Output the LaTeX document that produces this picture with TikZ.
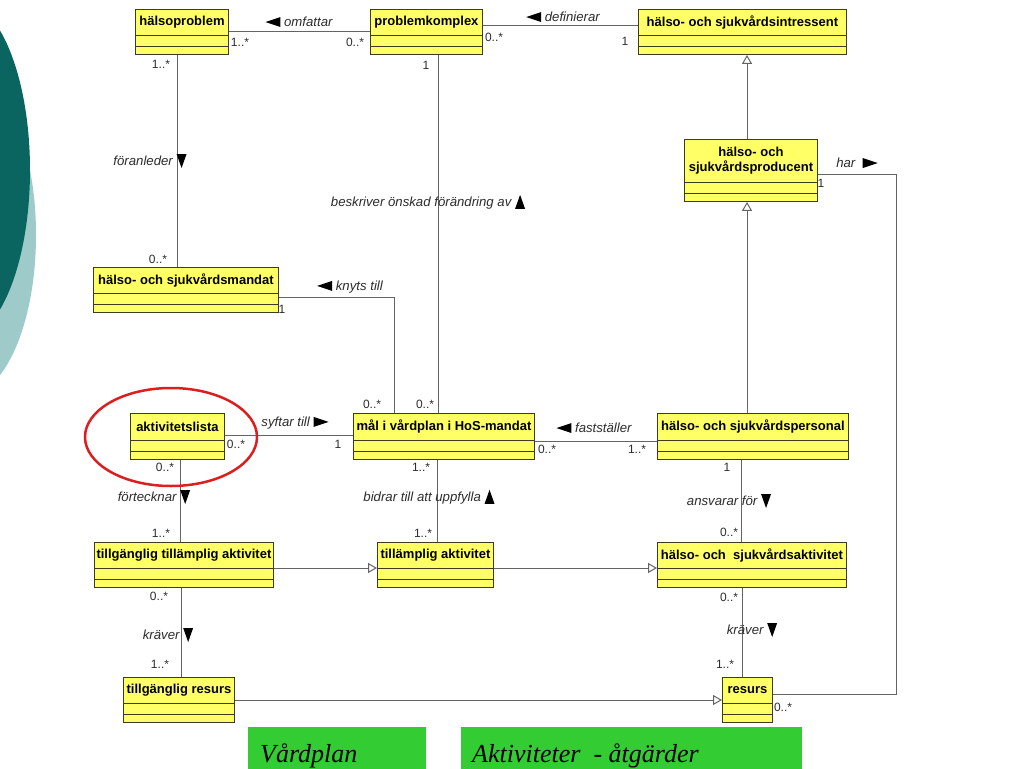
\documentclass[tikz,border=0pt]{standalone}
\usepackage{fontspec}
\setmainfont{Liberation Sans}
\newfontfamily\serifit{Liberation Serif}
\usetikzlibrary{arrows.meta,calc}
\definecolor{clsyellow}{RGB}{255,255,102}
\definecolor{clsborder}{RGB}{60,60,30}
\definecolor{linegray}{RGB}{100,100,100}
\definecolor{labgray}{RGB}{45,45,45}
\definecolor{darkteal}{RGB}{10,100,96}
\definecolor{lightteal}{RGB}{158,202,202}
\definecolor{slidegreen}{RGB}{51,204,51}
\definecolor{ringred}{RGB}{220,30,30}
\tikzset{
 clsbox/.style={draw=clsborder, fill=clsyellow, line width=0.9pt, inner sep=0pt, anchor=north west},
 clstitle/.style={font=\fontsize{13}{15}\selectfont\bfseries, text=black, inner sep=0pt, align=center},
 cline/.style={draw=clsborder, line width=0.9pt},
 assoc/.style={draw=linegray, line width=1pt},
 gen/.style={draw=linegray, line width=1pt, -{Triangle[open, length=9pt, width=10pt, fill=white]}},
 rolelab/.style={font=\fontsize{13.2}{15}\selectfont\itshape, text=labgray, inner sep=0pt},
 mult/.style={font=\fontsize{12}{14}\selectfont, text=labgray, inner sep=0pt},
 greenbox/.style={fill=slidegreen, draw=none, inner sep=0pt, anchor=north west},
 greentext/.style={font=\serifit\itshape\fontsize{26}{28}\selectfont, text=black, inner sep=0pt, anchor=base west},
}
\newcommand\triL{\tikz[x=1pt,y=1pt,baseline=-4.5pt]\fill[black] (0,0)--(15,5)--(15,-5)--cycle;}
\newcommand\triR{\tikz[x=1pt,y=1pt,baseline=-4.5pt]\fill[black] (15,0)--(0,5)--(0,-5)--cycle;}
\newcommand\triU{\tikz[x=1pt,y=1pt,baseline=-4.5pt]\fill[black] (0,7)--(5,-7)--(-5,-7)--cycle;}
\newcommand\triD{\tikz[x=1pt,y=1pt,baseline=-4.5pt]\fill[black] (0,-7)--(5,7)--(-5,7)--cycle;}
\newcommand\umlclass[6]{%
 \node[clsbox, minimum width=#4pt, minimum height=#5pt] (#1) at (#2,#3) {};
 \draw[cline] ([yshift=19pt]#1.south west) -- ([yshift=19pt]#1.south east);
 \draw[cline] ([yshift=8pt]#1.south west) -- ([yshift=8pt]#1.south east);
 \node[clstitle] (#1-t) at ($(#1.north)!0.5!([yshift=19pt]#1.south)$) {#6};
}
\begin{document}
\begin{tikzpicture}[x=1pt,y=-1pt]
\useasboundingbox (0,0) rectangle (1024,768);
\fill[white] (0,0) rectangle (1024,768);
% slide decoration
\fill[lightteal] (-35,235) ellipse [x radius=71pt, y radius=161pt];
\fill[darkteal] (-40,170) ellipse [x radius=70pt, y radius=170pt];

% classes
\umlclass{hp}{135}{9}{93}{45}{hälsoproblem}
\umlclass{pk}{370}{9}{112}{45}{problemkomplex}
\umlclass{hi}{638}{9}{208}{45}{hälso- och sjukvårdsintressent}
\umlclass{hprod}{684}{139}{133}{62}{hälso- och\\sjukvårdsproducent}
\umlclass{hm}{93}{267}{185}{45}{hälso- och sjukvårdsmandat}
\umlclass{al}{130}{413}{94}{46}{aktivitetslista}
\umlclass{mal}{353}{413}{181}{46}{mål i vårdplan i HoS-mandat}
\umlclass{hper}{657}{413}{191}{46}{hälso- och sjukvårdspersonal}
\umlclass{tta}{94}{542}{179}{45}{tillgänglig tillämplig aktivitet}
\umlclass{ta}{377}{542}{116}{45}{tillämplig aktivitet}
\umlclass{hsa}{657}{542}{189}{45}{hälso- och\ \ sjukvårdsaktivitet}
\umlclass{tr}{123}{677}{111}{45}{tillgänglig resurs}
\umlclass{res}{722}{677}{50}{45}{resurs}

% associations
\draw[assoc] (hp.east |- 0,32) -- (pk.west |- 0,32);
\draw[assoc] (pk.east |- 0,26) -- (hi.west |- 0,26);
\draw[assoc] (hp.south -| 177,0) -- (hm.north -| 177,0);
\draw[assoc] (pk.south -| 438,0) -- (mal.north -| 438,0);
\draw[assoc] (hm.east |- 0,297) -| (mal.north -| 394,0);
\draw[assoc] (al.east |- 0,435) -- (mal.west |- 0,435);
\draw[assoc] (mal.east |- 0,441) -- (hper.west |- 0,441);
\draw[assoc] (al.south -| 180,0) -- (tta.north -| 180,0);
\draw[assoc] (mal.south -| 437,0) -- (ta.north -| 437,0);
\draw[assoc] (hper.south -| 741,0) -- (hsa.north -| 741,0);
\draw[assoc] (tta.south -| 181,0) -- (tr.north -| 181,0);
\draw[assoc] (hsa.south -| 742,0) -- (res.north -| 742,0);
\coordinate (harc) at (896,174);
\draw[assoc] (hprod.east |- 0,174) -- (harc) |- (res.east |- 0,694);

% generalizations
\draw[gen] (hprod.north -| 747,0) -- (hi.south -| 747,0);
\draw[gen] (hper.north -| 747,0) -- (hprod.south -| 747,0);
\draw[gen] (tta.east |- 0,568) -- (ta.west |- 0,568);
\draw[gen] (ta.east |- 0,568) -- (hsa.west |- 0,568);
\draw[gen] (tr.east |- 0,700) -- (res.west |- 0,700);

% association names
\node[rolelab] (l1) at (299,22) {\triL\ omfattar};
\node[rolelab] (l2) at (563,17) {\triL\ definierar};
\node[rolelab] (l3) at (150,161) {föranleder \triD};
\node[rolelab] (l4) at (428,202) {beskriver önskad förändring av \triU};
\node[rolelab] (l5) at (350,287) {\triL\ knyts till};
\node[rolelab] (l6) at (857,163) {har \ \triR};
\node[rolelab] (l7) at (295,423) {syftar till \triR};
\node[rolelab] (l8) at (594,428) {\triL\ fastställer};
\node[rolelab] (l9) at (154,497) {förtecknar \triD};
\node[rolelab] (l10) at (429,497) {bidrar till att uppfylla \triU};
\node[rolelab] (l11) at (729,501) {ansvarar för \triD};
\node[rolelab] (l12) at (168,635) {kräver \triD};
\node[rolelab] (l13) at (752,630) {kräver \triD};

% multiplicities
\node[mult] (m1) at (240,42) {1..*};
\node[mult] (m2) at (355,42) {0..*};
\node[mult] (m3) at (494,37) {0..*};
\node[mult] (m4) at (625,41) {1};
\node[mult] (m5) at (161,64) {1..*};
\node[mult] (m6) at (426,65) {1};
\node[mult] (m7) at (158,259) {0..*};
\node[mult] (m8) at (282,309) {1};
\node[mult] (m9) at (372,404) {0..*};
\node[mult] (m10) at (425,404) {0..*};
\node[mult] (m11) at (236,444) {0..*};
\node[mult] (m12) at (338,444) {1};
\node[mult] (m13) at (165,467) {0..*};
\node[mult] (m14) at (421,467) {1..*};
\node[mult] (m15) at (547,449) {0..*};
\node[mult] (m16) at (637,449) {1..*};
\node[mult] (m17) at (727,467) {1};
\node[mult] (m18) at (161,533) {1..*};
\node[mult] (m19) at (423,533) {1..*};
\node[mult] (m20) at (729,532) {0..*};
\node[mult] (m21) at (159,596) {0..*};
\node[mult] (m22) at (729,597) {0..*};
\node[mult] (m23) at (160,664) {1..*};
\node[mult] (m24) at (725,664) {1..*};
\node[mult] (m25) at (783,707) {0..*};
\node[mult] (m26) at (821,183) {1};

% green slide captions
\node[greenbox, minimum width=178pt, minimum height=45pt] (g1) at (248,727) {};
\node[greentext] (g1t) at (260,762) {Vårdplan};
\node[greenbox, minimum width=341pt, minimum height=45pt] (g2) at (461,727) {};
\node[greentext] (g2t) at (472,762) {Aktiviteter\ \ - åtgärder};

% red highlight ring
\draw[ringred, line width=2.5pt] (171,437) ellipse [x radius=86pt, y radius=49pt];
\end{tikzpicture}
\end{document}
